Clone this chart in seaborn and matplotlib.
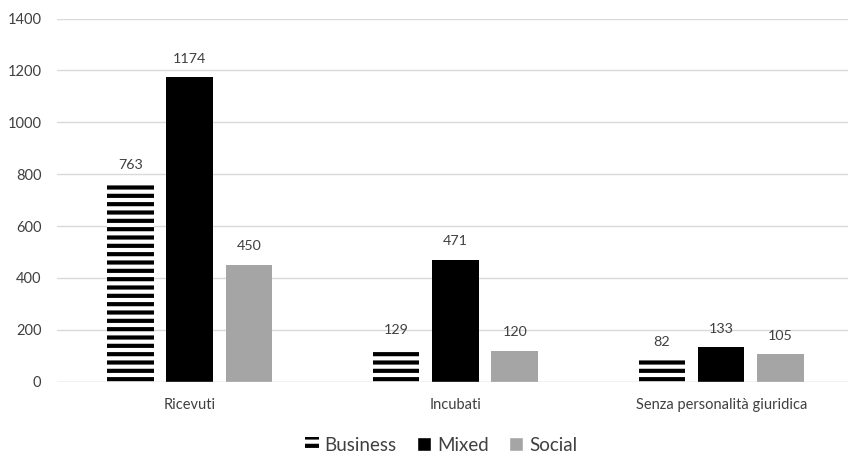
import pandas as pd
import numpy as np
import matplotlib
matplotlib.use("Agg")
import matplotlib.pyplot as plt
import seaborn as sns
from matplotlib.patches import Patch

# data
categories = ["Ricevuti", "Incubati", "Senza personalità giuridica"]
series = ["Business", "Mixed", "Social"]
business = [763, 129, 82]
mixed = [1174, 471, 133]
social = [450, 120, 105]

df = pd.DataFrame({
    "cat": categories * 3,
    "tipo": ["Business"] * 3 + ["Mixed"] * 3 + ["Social"] * 3,
    "val": business + mixed + social,
})

sns.set_style("white")
plt.rcParams["font.family"] = ["Lato", "DejaVu Sans"]
plt.rcParams["hatch.linewidth"] = 3.0

fig = plt.figure(figsize=(8.48, 4.57), dpi=100)
# chart is cropped on the right in the original, so axes run a bit past the edge
ax = fig.add_axes([0.0669, 0.1648, 0.9403, 0.7947])

pal = {"Business": "white", "Mixed": "black", "Social": "#a5a5a5"}
sns.barplot(data=df, x="cat", y="val", hue="tipo", palette=pal, width=0.669,
            gap=0.215, ax=ax, legend=False, saturation=1, linewidth=0)

for bar in ax.containers[0]:
    bar.set_hatch("--")
    bar.set_edgecolor("black")
    bar.set_linewidth(0)

for c in ax.containers:
    ax.bar_label(c, padding=9, fontsize=10.3, color="#404040")

ax.set_ylim(0, 1400)
ax.set_xlim(-0.5, 2.5)
ax.set_yticks(range(0, 1401, 200))
ax.grid(True, axis="y", color="#d9d9d9", linewidth=1)
ax.set_axisbelow(True)
sns.despine(ax=ax, left=True, top=True, right=True, bottom=True)
ax.axhline(0, color="#d9d9d9", linewidth=1)
ax.tick_params(axis="both", length=0, labelsize=10.5, labelcolor="#404040")
ax.tick_params(axis="x", pad=12)
ax.tick_params(axis="y", pad=11)
ax.set_xlabel("")
ax.set_ylabel("")

handles = [
    Patch(facecolor="white", edgecolor="black", hatch="--", linewidth=0),
    Patch(facecolor="black"),
    Patch(facecolor="#a5a5a5"),
]
fig.legend(handles, series, loc="center", ncol=3, frameon=False,
           bbox_to_anchor=(0.52, 0.026), fontsize=13.5, handlelength=0.75,
           handleheight=0.75, handletextpad=0.3, columnspacing=1.1,
           labelcolor="#404040")

fig.savefig("out.png", dpi=100)
